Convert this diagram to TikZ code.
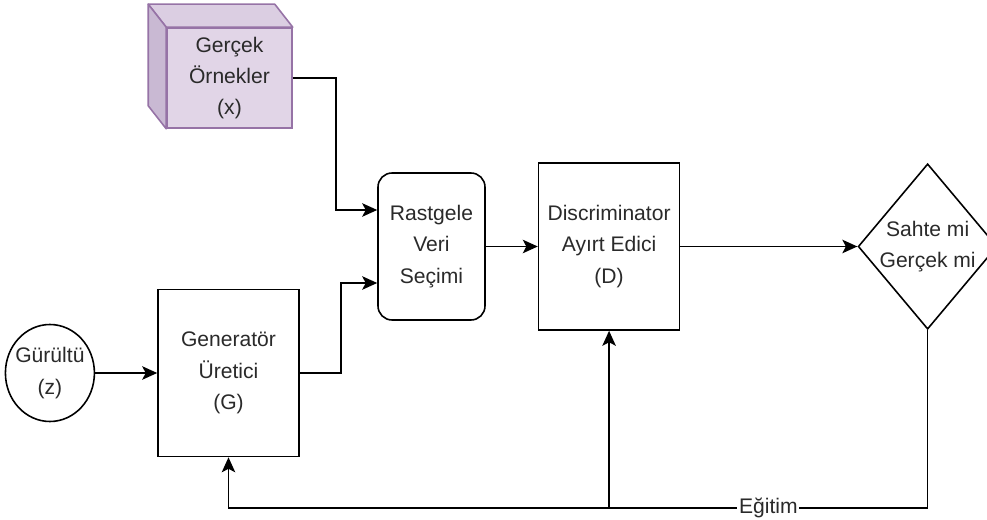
\documentclass[tikz,border=0pt]{standalone}
\usepackage{fontspec}
\setmainfont{Liberation Sans}
\usetikzlibrary{shapes.geometric,arrows.meta,positioning}
\definecolor{cubefront}{HTML}{E1D5E7}
\definecolor{cubetop}{HTML}{DBCEE2}
\definecolor{cubeside}{HTML}{C9B9D3}
\definecolor{cubeline}{HTML}{9673A6}
\definecolor{txt}{HTML}{2A2A2A}

\begin{document}
\begin{tikzpicture}[
  every node/.style={font=\fontsize{12}{17.8}\selectfont,text=txt},
  box/.style={rectangle,draw,line width=0.9pt,minimum width=2.82cm,
              minimum height=3.34cm,align=center},
  randbox/.style={rectangle,draw,rounded corners=8pt,line width=0.9pt,
                  minimum width=2.14cm,minimum height=2.94cm,align=center},
  judgebox/.style={diamond,draw,line width=0.9pt,aspect=0.84,inner sep=0pt,
                   align=center},
  noisebox/.style={ellipse,draw,line width=0.9pt,minimum width=1.78cm,
                   minimum height=1.94cm,inner xsep=-1mm,inner ysep=0pt,align=center},
  cube/.style={rectangle,draw=cubeline,fill=cubefront,line width=0.9pt,
               minimum width=2.5cm,minimum height=2cm,align=center},
  cubeface/.style={draw=cubeline,line width=0.9pt,line join=round},
  arr/.style={-{Stealth[length=3mm,width=2.7mm,inset=0.7mm]},line width=0.9pt},
  lbl/.style={fill=white,inner xsep=1pt,inner ysep=0pt}
]
\useasboundingbox (0,0) rectangle (19.74,-10.4);
\node[randbox] (rand) at (8.63,-4.93) {Rastgele\\Veri\\Seçimi};
\node[box,right=1.04cm of rand] (disc) {Discriminator\\Ayırt Edici\\(D)};
\node[judgebox,right=3.54cm of disc] (judge) {Sahte mi\\Gerçek mi};
\node[box] (gen) at (4.57,-7.46) {Generatör\\Üretici\\(G)};
\node[noisebox,left=1.24cm of gen] (noise) {Gürültü\\(z)};
\node[cube] (real) at (4.59,-1.56) {Gerçek\\Örnekler\\(x)};
% cube sides
\filldraw[cubeface,fill=cubetop] (real.north west) -- ++(-0.36,0.46)
  -- ([shift={(-0.36,0.46)}]real.north east) -- (real.north east) -- cycle;
\filldraw[cubeface,fill=cubeside] (real.north west) -- ++(-0.36,0.46)
  -- ([shift={(-0.36,0.46)}]real.south west) -- (real.south west) -- cycle;
\draw[arr] (noise) -- (gen);
\draw[arr] (real.east) -- ++(0.86,0) |- ([yshift=0.73cm]rand.west);
\draw[arr] (gen.east) -- ++(0.82,0) |- ([yshift=-0.73cm]rand.west);
\draw[arr] (rand) -- (disc);
\draw[arr] (disc) -- (judge);
% training feedback
\coordinate (fb) at (judge.south |- 0,-10.16);
\draw[arr] (judge.south) -- (fb) -- node[lbl] {Eğitim} (fb -| disc.south) -| (gen.south);
\draw[arr] (fb -| disc.south) -- (disc.south);
\end{tikzpicture}
\end{document}
